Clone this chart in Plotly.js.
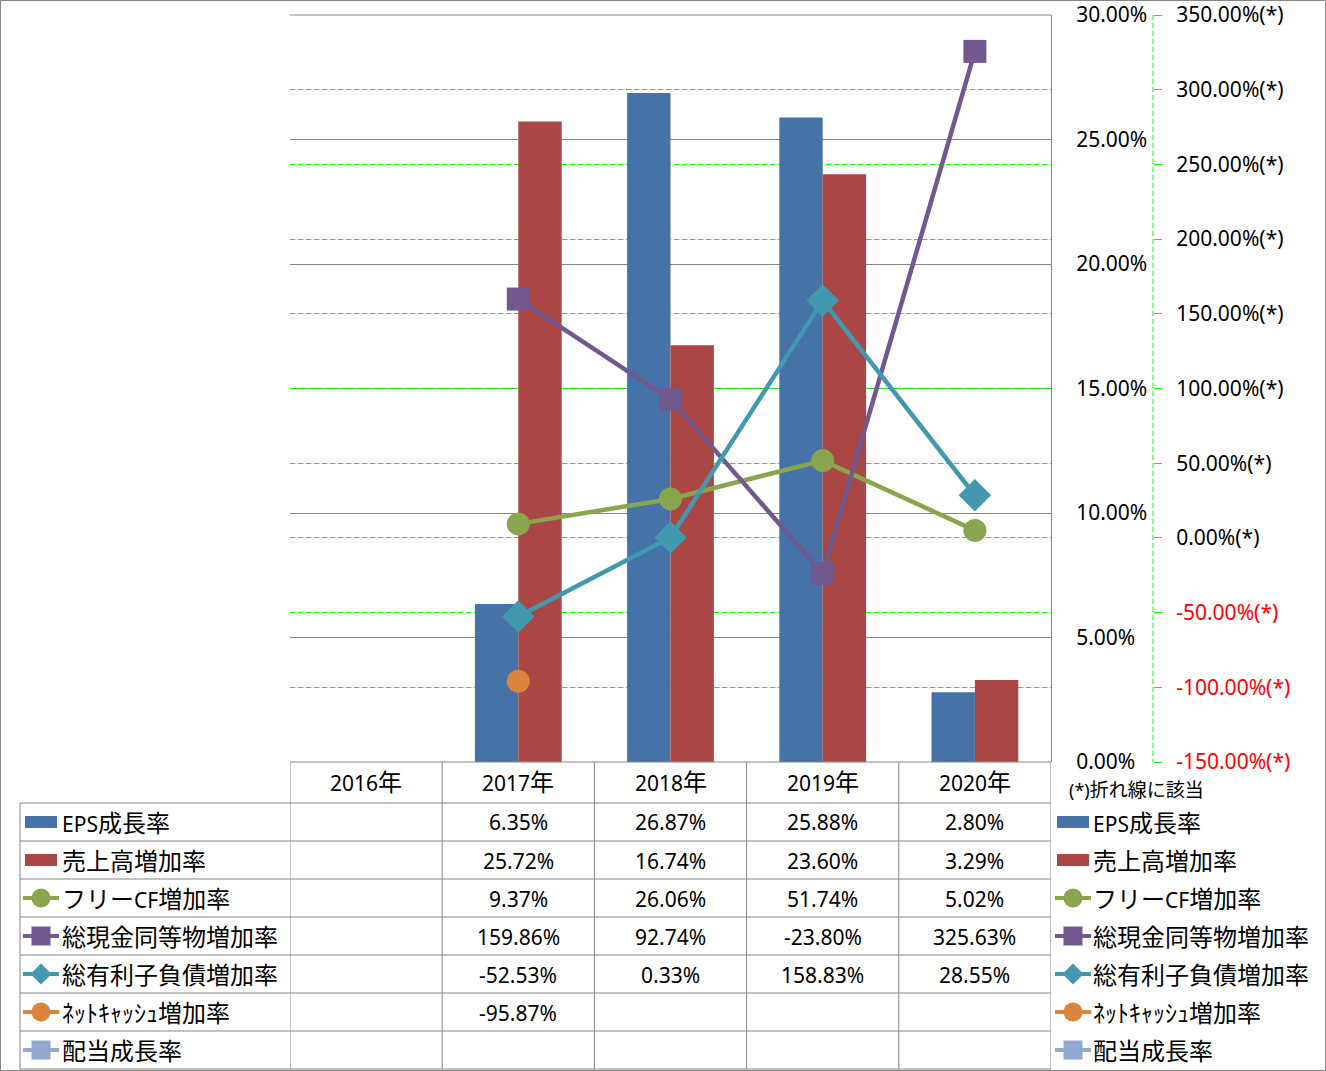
<!DOCTYPE html>
<html><head><meta charset="utf-8">
<script src="https://cdn.plot.ly/plotly-3.0.1.min.js"></script>
<style>html,body{margin:0;padding:0;background:#fff}</style>
</head><body><div id="chart" style="width:1326px;height:1071px"></div>
<script>
// ---- data ----
const categories = ['2016年','2017年','2018年','2019年','2020年'];
const epsGrowth = [null, 6.35, 26.87, 25.88, 2.80];
const salesGrowth = [null, 25.72, 16.74, 23.60, 3.29];
const fcfGrowth = [null, 9.37, 26.06, 51.74, 5.02];
const cashGrowth = [null, 159.86, 92.74, -23.80, 325.63];
const debtGrowth = [null, -52.53, 0.33, 158.83, 28.55];
const netCashGrowth = [null, -95.87, null, null, null];
const dividendGrowth = [null, null, null, null, null];
const seriesNames = ['EPS成長率','売上高増加率','フリーCF増加率','総現金同等物増加率','総有利子負債増加率','ﾈｯﾄｷｬｯｼｭ増加率','配当成長率'];
const primaryTicks = [0, 5, 10, 15, 20, 25, 30];
const secondaryTicks = [-150, -100, -50, 0, 50, 100, 150, 200, 250, 300, 350];
const secondaryNote = '(*)折れ線に該当';

// ---- styles ----
const seriesValues = [epsGrowth, salesGrowth, fcfGrowth, cashGrowth, debtGrowth, netCashGrowth, dividendGrowth];
const colors = ['#4572A7','#AA4643','#89A54E','#71588F','#4198AF','#DB843D','#93A9CF'];
const kinds = ['bar','bar','circle','square','diamond','circle','square'];

const W = 1326, H = 1071, L = 290, R = 26, T = 15, B = 309;
const PW = W - L - R, PH = H - T - B;
const px = x => (x - L) / PW;
const py = y => (H - B - y) / PH;
const FONT = 'Noto Sans, Noto Sans CJK JP, sans-serif';
const cjk = (s, size) => s.replace(/([\u3000-\u9fff\uff00-\uffef]+)/g, '<span style="font-size:' + size + 'px">$1</span>');
const fmt = v => v.toFixed(2) + '%';

// ---- traces ----
const traces = [];
traces.push({type:'bar', name: seriesNames[0], x: categories, y: epsGrowth, marker:{color: colors[0]}, yaxis:'y', hoverinfo:'skip'});
traces.push({type:'bar', name: seriesNames[1], x: categories, y: salesGrowth, marker:{color: colors[1]}, yaxis:'y', hoverinfo:'skip'});
const markerSize = {circle: 23, square: 23, diamond: 25};
for (let i = 2; i < seriesNames.length; i++) {
  traces.push({type:'scatter', mode:'lines+markers', name: seriesNames[i], x: categories, y: seriesValues[i],
    yaxis:'y2', line:{color: colors[i], width: 4.5}, marker:{symbol: kinds[i], size: markerSize[kinds[i]], color: colors[i]},
    connectgaps:false, hoverinfo:'skip'});
}

// ---- shapes & annotations ----
const shapes = [], annotations = [];
const GRAY = '#868686';
const line = (x0, y0, x1, y1, extra) => Object.assign({type:'line', xref:'paper', yref:'paper', x0: px(x0), x1: px(x1), y0: py(y0), y1: py(y1), line:{color: GRAY, width: 1}, layer:'above'}, extra || {});

// outer border
shapes.push({type:'rect', xref:'paper', yref:'paper', x0: px(0.5), x1: px(1325.5), y0: py(0.5), y1: py(1070.5), line:{color: GRAY, width: 1}, layer:'below'});
// plot top border (30% gridline)
shapes.push(line(290, 15, 1051, 15, {layer:'below'}));
// secondary axis dashed line
shapes.push(line(1153, 15, 1153, 762, {line:{color:'#00FF00', width:1, dash:'5px,3px'}}));

// table
const headerTop = 762, headerBottom = 803, rowH = 38;
const tableBottom = headerBottom + rowH * seriesNames.length;
shapes.push(line(290, headerTop, 1051, headerTop));
for (let r = 0; r <= seriesNames.length; r++) {
  const y = headerBottom + rowH * r;
  shapes.push(line(20, y, 1051, y));
}
shapes.push(line(20, headerBottom, 20, tableBottom));
for (let j = 0; j <= categories.length; j++) {
  shapes.push({type:'line', xref:'x', yref:'paper', x0: j - 0.5, x1: j - 0.5, y0: py(headerTop), y1: py(tableBottom), line:{color: GRAY, width: 1}, layer:'above'});
}
categories.forEach((c, j) => {
  annotations.push({xref:'x', yref:'paper', x: j, y: py(782), text: cjk(c, 24), showarrow:false, xanchor:'center', yanchor:'middle', font:{size: 21}});
});
seriesValues.forEach((vals, r) => {
  const yc = headerBottom + rowH * r + rowH / 2 + 0.5;
  vals.forEach((v, j) => {
    if (v === null || v === undefined) return;
    annotations.push({xref:'x', yref:'paper', x: j, y: py(yc), text: fmt(v), showarrow:false, xanchor:'center', yanchor:'middle', font:{size: 21}});
  });
});

// legend keys (left inside table, right outside)
function addKey(cx, cy, i) {
  const col = colors[i];
  if (kinds[i] === 'bar') {
    shapes.push({type:'rect', xref:'paper', yref:'paper', x0: px(cx - 16), x1: px(cx + 16), y0: py(cy - 6), y1: py(cy + 6), fillcolor: col, line:{width:0}, layer:'above'});
    return;
  }
  shapes.push(line(cx - 18, cy, cx + 18, cy, {line:{color: col, width: 4}}));
  const r = 9.5;
  if (kinds[i] === 'circle') {
    shapes.push({type:'circle', xref:'paper', yref:'paper', x0: px(cx - r), x1: px(cx + r), y0: py(cy - r), y1: py(cy + r), fillcolor: col, line:{width:0}, layer:'above'});
  } else if (kinds[i] === 'square') {
    shapes.push({type:'rect', xref:'paper', yref:'paper', x0: px(cx - r), x1: px(cx + r), y0: py(cy - r), y1: py(cy + r), fillcolor: col, line:{width:0}, layer:'above'});
  } else {
    const d = 10.5;
    const path = 'M' + px(cx) + ',' + py(cy - d) + ' L' + px(cx + d) + ',' + py(cy) + ' L' + px(cx) + ',' + py(cy + d) + ' L' + px(cx - d) + ',' + py(cy) + ' Z';
    shapes.push({type:'path', xref:'paper', yref:'paper', path: path, fillcolor: col, line:{width:0}, layer:'above'});
  }
}
seriesNames.forEach((name, i) => {
  const yc = headerBottom + rowH * i + rowH / 2;
  addKey(41, yc, i);
  addKey(1073, yc, i);
  annotations.push({xref:'paper', yref:'paper', x: px(60), y: py(yc), text: cjk(name, 24), showarrow:false, xanchor:'left', yanchor:'middle', font:{size: 21}});
  annotations.push({xref:'paper', yref:'paper', x: px(1091), y: py(yc), text: cjk(name, 24), showarrow:false, xanchor:'left', yanchor:'middle', font:{size: 21}});
});
annotations.push({xref:'paper', yref:'paper', x: px(1067), y: py(790), text: cjk(secondaryNote, 19), showarrow:false, xanchor:'left', yanchor:'middle', font:{size: 18}});

// ---- layout ----
const layout = {
  width: W, height: H,
  margin: {l: L, r: R, t: T, b: B, pad: 0},
  paper_bgcolor: '#ffffff', plot_bgcolor: 'rgba(0,0,0,0)',
  font: {family: FONT, size: 21, color: '#000000'},
  showlegend: false,
  barmode: 'group', bargap: 0.43, bargroupgap: 0,
  xaxis: {type:'category', domain:[0, px(1051)], range:[-0.5, 4.5], showticklabels:false, showgrid:false, zeroline:false, showline:false, ticks:'', fixedrange:true},
  yaxis: {range:[0, 30], side:'right', anchor:'x', tickvals: primaryTicks, ticktext: primaryTicks.map(fmt),
    showline:true, linecolor: GRAY, linewidth:1, showgrid:true, gridcolor: GRAY, gridwidth:1, zeroline:false,
    ticks:'', ticklabelstandoff: 20, fixedrange:true, tickfont:{size:21}},
  yaxis2: {range:[-150, 350], overlaying:'y', side:'right', anchor:'free', position: px(1153),
    tickvals: secondaryTicks,
    ticktext: secondaryTicks.map(v => v < 0 ? '<span style="color:#FF0000">' + fmt(v) + '(*)</span>' : fmt(v) + '(*)'),
    showgrid:true, gridcolor:'#00FF00', gridwidth:1, griddash:'5px,3px', zeroline:false, showline:false,
    ticks:'outside', ticklen:8, tickcolor:'#00FF00', tickwidth:1, ticklabelstandoff: 10, fixedrange:true, tickfont:{size:21}},
  shapes: shapes,
  annotations: annotations
};

Plotly.newPlot('chart', traces, layout, {displayModeBar:false, staticPlot:true});
</script>
</body></html>
